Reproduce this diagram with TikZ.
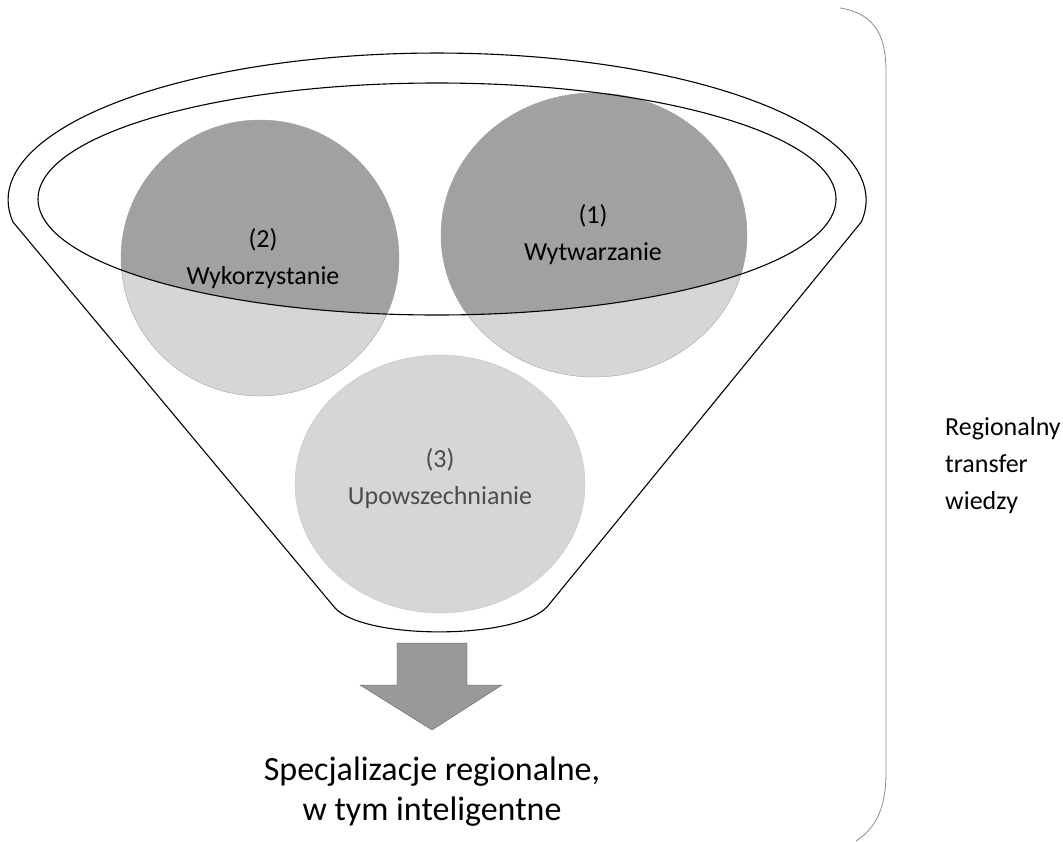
\documentclass[tikz,border=0pt]{standalone}
\usepackage{fontspec}
\setmainfont{Carlito}
\begin{document}
\begin{tikzpicture}[x=1pt,y=-1pt]
\definecolor{darkfill}{gray}{0.63}
\definecolor{lightfill}{gray}{0.84}
\definecolor{arrowfill}{gray}{0.6}
\definecolor{bracecol}{gray}{0.55}
\definecolor{softtext}{gray}{0.3}
\tikzset{
  funnelline/.style={draw=black,line width=1.1pt},
  circedge/.style={draw=gray!70,line width=0.4pt},
  circtext/.style={align=center,inner sep=0pt,font=\fontsize{26}{37}\selectfont},
}
\useasboundingbox (0,0) rectangle (1063,841);
% funnel outline
\draw[funnelline,fill=white] (13,222) arc[start angle=171.4,end angle=368.6,x radius=429,y radius=147]
  -- (547,607) .. controls (515,640) and (365,640) .. (335,608) -- cycle;
% light circles
\fill[lightfill] (594,235) ellipse [x radius=153, y radius=142];
\fill[lightfill] (260,258) ellipse [x radius=139, y radius=138];
\fill[lightfill] (440,484) ellipse [x radius=145, y radius=129];
% dark parts inside inner ellipse
\begin{scope}
  \clip (437,199) ellipse [x radius=399, y radius=116];
  \fill[darkfill] (594,235) ellipse [x radius=153, y radius=142];
  \fill[darkfill] (260,258) ellipse [x radius=139, y radius=138];
\end{scope}
\draw[circedge] (594,235) ellipse [x radius=153, y radius=142];
\draw[circedge] (260,258) ellipse [x radius=139, y radius=138];
\draw[circedge,draw=gray!45] (440,484) ellipse [x radius=145, y radius=129];
% inner ellipse
\draw[funnelline] (437,199) ellipse [x radius=399, y radius=116];
% circle labels
\node[circtext] (c1) at (593,235) {(1)\\Wytwarzanie};
\node[circtext] (c2) at (263,259) {(2)\\Wykorzystanie};
\node[circtext,text=softtext] (c3) at (440,479) {(3)\\Upowszechnianie};
% arrow
\fill[arrowfill,draw=gray!60!black,line width=0.3pt] (397,643) -- (467,643) -- (467,685) -- (502,685) -- (432,730) -- (360,685) -- (397,685) -- cycle;
% output text
\node[align=center,inner sep=0pt,font=\fontsize{34}{40}\selectfont] (out) at (432,792) {Specjalizacje regionalne,\\w tym inteligentne};
% brace
\draw[bracecol,line width=0.8pt] (840,8) .. controls (878,14) and (886,40) .. (886,72) -- (886,772) .. controls (886,808) and (876,828) .. (856,841);
% right label
\node[align=left,anchor=west,inner sep=0pt,font=\fontsize{26}{37}\selectfont] (rt) at (945,466) {Regionalny\\transfer\\wiedzy};
\end{tikzpicture}
\end{document}
